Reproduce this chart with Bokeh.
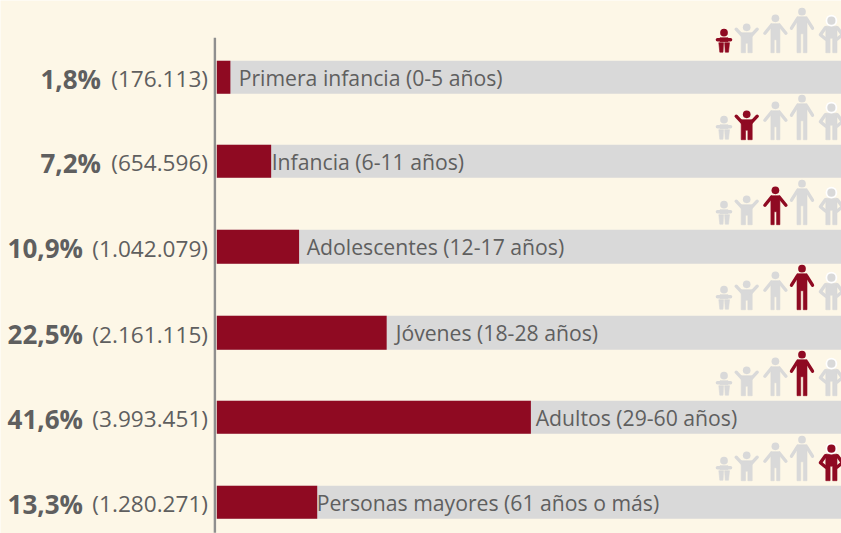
from bokeh.plotting import figure
from bokeh.models import ColumnDataSource, Range1d
from bokeh.core.properties import value
from bokeh.embed import file_html
from bokeh.resources import INLINE

categories = ["Primera infancia (0-5 años)", "Infancia (6-11 años)", "Adolescentes (12-17 años)",
              "Jóvenes (18-28 años)", "Adultos (29-60 años)", "Personas mayores (61 años o más)"]
shares = [1.8, 7.2, 10.9, 22.5, 41.6, 13.3]
share_labels = ["1,8%", "7,2%", "10,9%", "22,5%", "41,6%", "13,3%"]
count_labels = ["(176.113)", "(654.596)", "(1.042.079)", "(2.161.115)", "(3.993.451)", "(1.280.271)"]
track_total = [100, 100, 100, 100, 100, 100]
highlighted_icon = [0, 1, 2, 3, 3, 4]

W, H = 841, 533
X0 = 216.3
PX = 7.55
ROW0, ROWSTEP = 77.5, 85.0
BG, RED, GRAY, INK = "#fdf7e7", "#8f0a22", "#d9d9d9", "#5f5f5f"
FONT = "Open Sans"
NUDGE = 0.8  # the renderer lands marks just right of and below their nominal pixel

bar_tops = [61, 145, 230, 316, 401, 486]
bar_hts = [33, 33, 34, 34, 33, 33]
label_left = [239, 272, 307, 396, 536, 317]
baselines = [53, 140, 225, 310, 396, 481]
icon_cx = [724.3, 747, 775.7, 802.3, 831.7]


def dx(px):
    return (px - NUDGE - X0) / PX


def dy(px):
    return (px - NUDGE - ROW0) / ROWSTEP


p = figure(width=W, height=H, output_backend="svg", toolbar_location=None,
           x_range=Range1d(dx(NUDGE), dx(W + NUDGE)), y_range=Range1d(dy(H + NUDGE), dy(NUDGE)),
           min_border=0, outline_line_color=None, background_fill_color=BG,
           border_fill_color=BG, styles={"position": "absolute", "left": "0px", "top": "0px"})
p.axis.visible = False
p.grid.visible = False

ys = [dy(t + h / 2) for t, h in zip(bar_tops, bar_hts)]
hs = [h / ROWSTEP for h in bar_hts]
src = ColumnDataSource(dict(y=ys, h=hs, share=shares, total=track_total, cat=categories,
                            lab=[dx(v) for v in label_left], s=share_labels, c=count_labels,
                            off=[-(98 if len(c) == 9 else 116) - 9 for c in count_labels]))
p.hbar(y="y", left=0, right="total", height="h", source=src, fill_color=GRAY, line_color=None)
p.hbar(y="y", left=0, right="share", height="h", source=src, fill_color=RED, line_color=None)
p.segment(x0=[dx(215.2)], x1=[dx(215.2)], y0=[dy(38)], y1=[dy(H)], line_color="#8f8f8f", line_width=2.4)

p.text(x="lab", y="y", text="cat", source=src, text_font=value(FONT), text_font_size="21.2px",
       text_color=INK, text_align="left", text_baseline="middle")
p.text(x=dx(208.3), y="y", text="c", source=src, y_offset=1.5, text_font=value(FONT), text_font_size="22.6px",
       text_color=INK, text_align="right", text_baseline="middle")
p.text(x=dx(208.3), y="y", text="s", source=src, x_offset="off", y_offset=1.5, text_font=value(FONT),
       text_font_size="26px", text_font_style="bold", text_color=INK, text_align="right", text_baseline="middle")

# pictograms: local pixel geometry (u = right of centre, v = up from the feet)
SHAPES = [
    dict(head=(20.0, 7.7), arms=[[(-6.5, 13), (6.5, 13)]], arm_w=3.6,
         body=[[(-4, 15), (4, 15), (4, 11), (-4, 11)],
               [(-5.2, 10), (-0.5, 10), (-1, 0.5), (-4.2, 0.5)],
               [(0.7, 10), (5.5, 10), (4.5, 0.5), (1.3, 0.5)]]),
    dict(head=(25.4, 7.7), arms=[[(-4, 16.5), (-10.5, 23.5)], [(4, 16.5), (10.5, 23.5)]], arm_w=3.4,
         body=[[(-5.5, 20), (5.5, 20), (5.5, 0), (1.2, 0), (1.2, 9.5), (-1.2, 9.5), (-1.2, 0), (-5.5, 0)]]),
    dict(head=(34.4, 7.7), arms=[[(-4, 27.5), (-10.5, 19.5)], [(4, 27.5), (10.5, 19.5)]], arm_w=3.4,
         body=[[(-4.5, 29), (4.5, 29), (4.5, 0), (1.2, 0), (1.2, 13), (-1.2, 13), (-1.2, 0), (-4.5, 0)]]),
    dict(head=(41, 7.7), arms=[[(-4.5, 34), (-10.5, 24.5)], [(4.5, 34), (10.5, 24.5)]], arm_w=3.4,
         body=[[(-5, 36), (5, 36), (5, 0), (1.3, 0), (1.3, 19), (-1.3, 19), (-1.3, 0), (-5, 0)]]),
    dict(head=(32, 8.2), ring=True, arms=[[(-6, 25), (-11, 18), (-5.5, 13.5)], [(6, 25), (11, 18), (5.5, 13.5)]], arm_w=3.4,
         body=[[(-5.6, 26.5), (5.6, 26.5), (5.6, 0), (1.3, 0), (1.3, 14.5), (-1.3, 14.5), (-1.3, 0), (-5.6, 0)]]),
]

for row, base in enumerate(baselines):
    for i, (cx, sh) in enumerate(zip(icon_cx, SHAPES)):
        col = RED if highlighted_icon[row] == i else GRAY
        xs = [[dx(cx + u) for u, v in poly] for poly in sh["body"]]
        yy = [[dy(base - v) for u, v in poly] for poly in sh["body"]]
        p.patches(xs, yy, fill_color=col, line_color=col, line_width=0.6, line_join="round")
        lx = [[dx(cx + u) for u, v in a] for a in sh["arms"]]
        ly = [[dy(base - v) for u, v in a] for a in sh["arms"]]
        p.multi_line(lx, ly, line_color=col, line_width=sh["arm_w"], line_cap="round", line_join="round")
        hv, hd = sh["head"]
        if sh.get("ring"):
            p.scatter([dx(cx)], [dy(base - hv)], size=hd + 3.5, marker="circle", fill_color="white", line_color=None)
        p.scatter([dx(cx)], [dy(base - hv)], size=hd, marker="circle", fill_color=col, line_color=None)

open("out.html", "w").write(file_html(p, INLINE))
